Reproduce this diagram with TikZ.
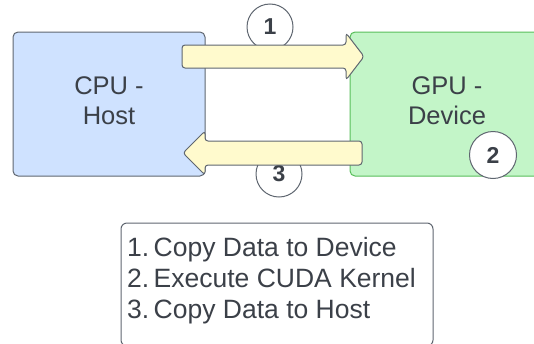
\documentclass[tikz,border=0pt]{standalone}
\usepackage{fontspec}
\setmainfont{Liberation Sans}
\definecolor{inkgrey}{RGB}{59,64,72}
\definecolor{edgegrey}{RGB}{95,102,112}
\definecolor{hostfill}{RGB}{207,226,255}
\definecolor{devfill}{RGB}{195,245,200}
\definecolor{devedge}{RGB}{88,190,90}
\definecolor{arrowfill}{RGB}{255,250,205}
\tikzset{
  unit/.style={draw=edgegrey, line width=1pt, rounded corners=5pt, inner sep=0pt},
  blockarrow/.style={draw=edgegrey, fill=arrowfill, line width=1pt, rounded corners=3pt},
  stepmark/.style={circle, draw=edgegrey, fill=white, line width=1pt, minimum size=46pt,
    inner sep=0pt, font=\fontsize{23}{23}\selectfont\bfseries, text=inkgrey},
  label/.style={font=\fontsize{25.5}{30}\selectfont, text=inkgrey, align=center}
}
\begin{document}
\begin{tikzpicture}[x=1pt,y=-1pt]
\useasboundingbox (0,0) rectangle (534,343);
\clip (0,0) rectangle (534,343);
% host and device blocks
\node[unit, fill=hostfill, minimum width=192pt, minimum height=144pt] (cpu) at (109,104) {};
\node[unit, draw=devedge, fill=devfill, minimum width=210pt, minimum height=144pt] (gpu) at (455,104) {};
\node[label] (cputext) at (109,101) {CPU -\\Host};
\node[label] (gputext) at (447,101) {GPU -\\Device};
% step markers on the transfers
\node[stepmark] (s1) at (270,27) {1};
\node[stepmark] (s3) at (279,174) {3};
% host -> device copy
\draw[blockarrow] (182,45) -- (346,45) -- (346,33) -- (364,56.5) -- (346,80) -- (346,68) -- (182,68) -- cycle;
% device -> host copy
\draw[blockarrow] (362,141) -- (205,141) -- (205,131) -- (183,153) -- (205,175) -- (205,165) -- (362,165) -- cycle;
\node[stepmark, minimum size=47pt] (s2) at (493,155) {2};
% legend
\node[draw=edgegrey, line width=1pt, rounded corners=6pt, minimum width=312pt, minimum height=123pt] (legend) at (277,284.5) {};
\node[font=\fontsize{26.5}{31}\selectfont, text=inkgrey, align=left, anchor=west, inner sep=0pt] (legendtext) at (127,281)
  {1.\,Copy Data to Device\\2.\,Execute CUDA Kernel\\3.\,Copy Data to Host};
\end{tikzpicture}
\end{document}
